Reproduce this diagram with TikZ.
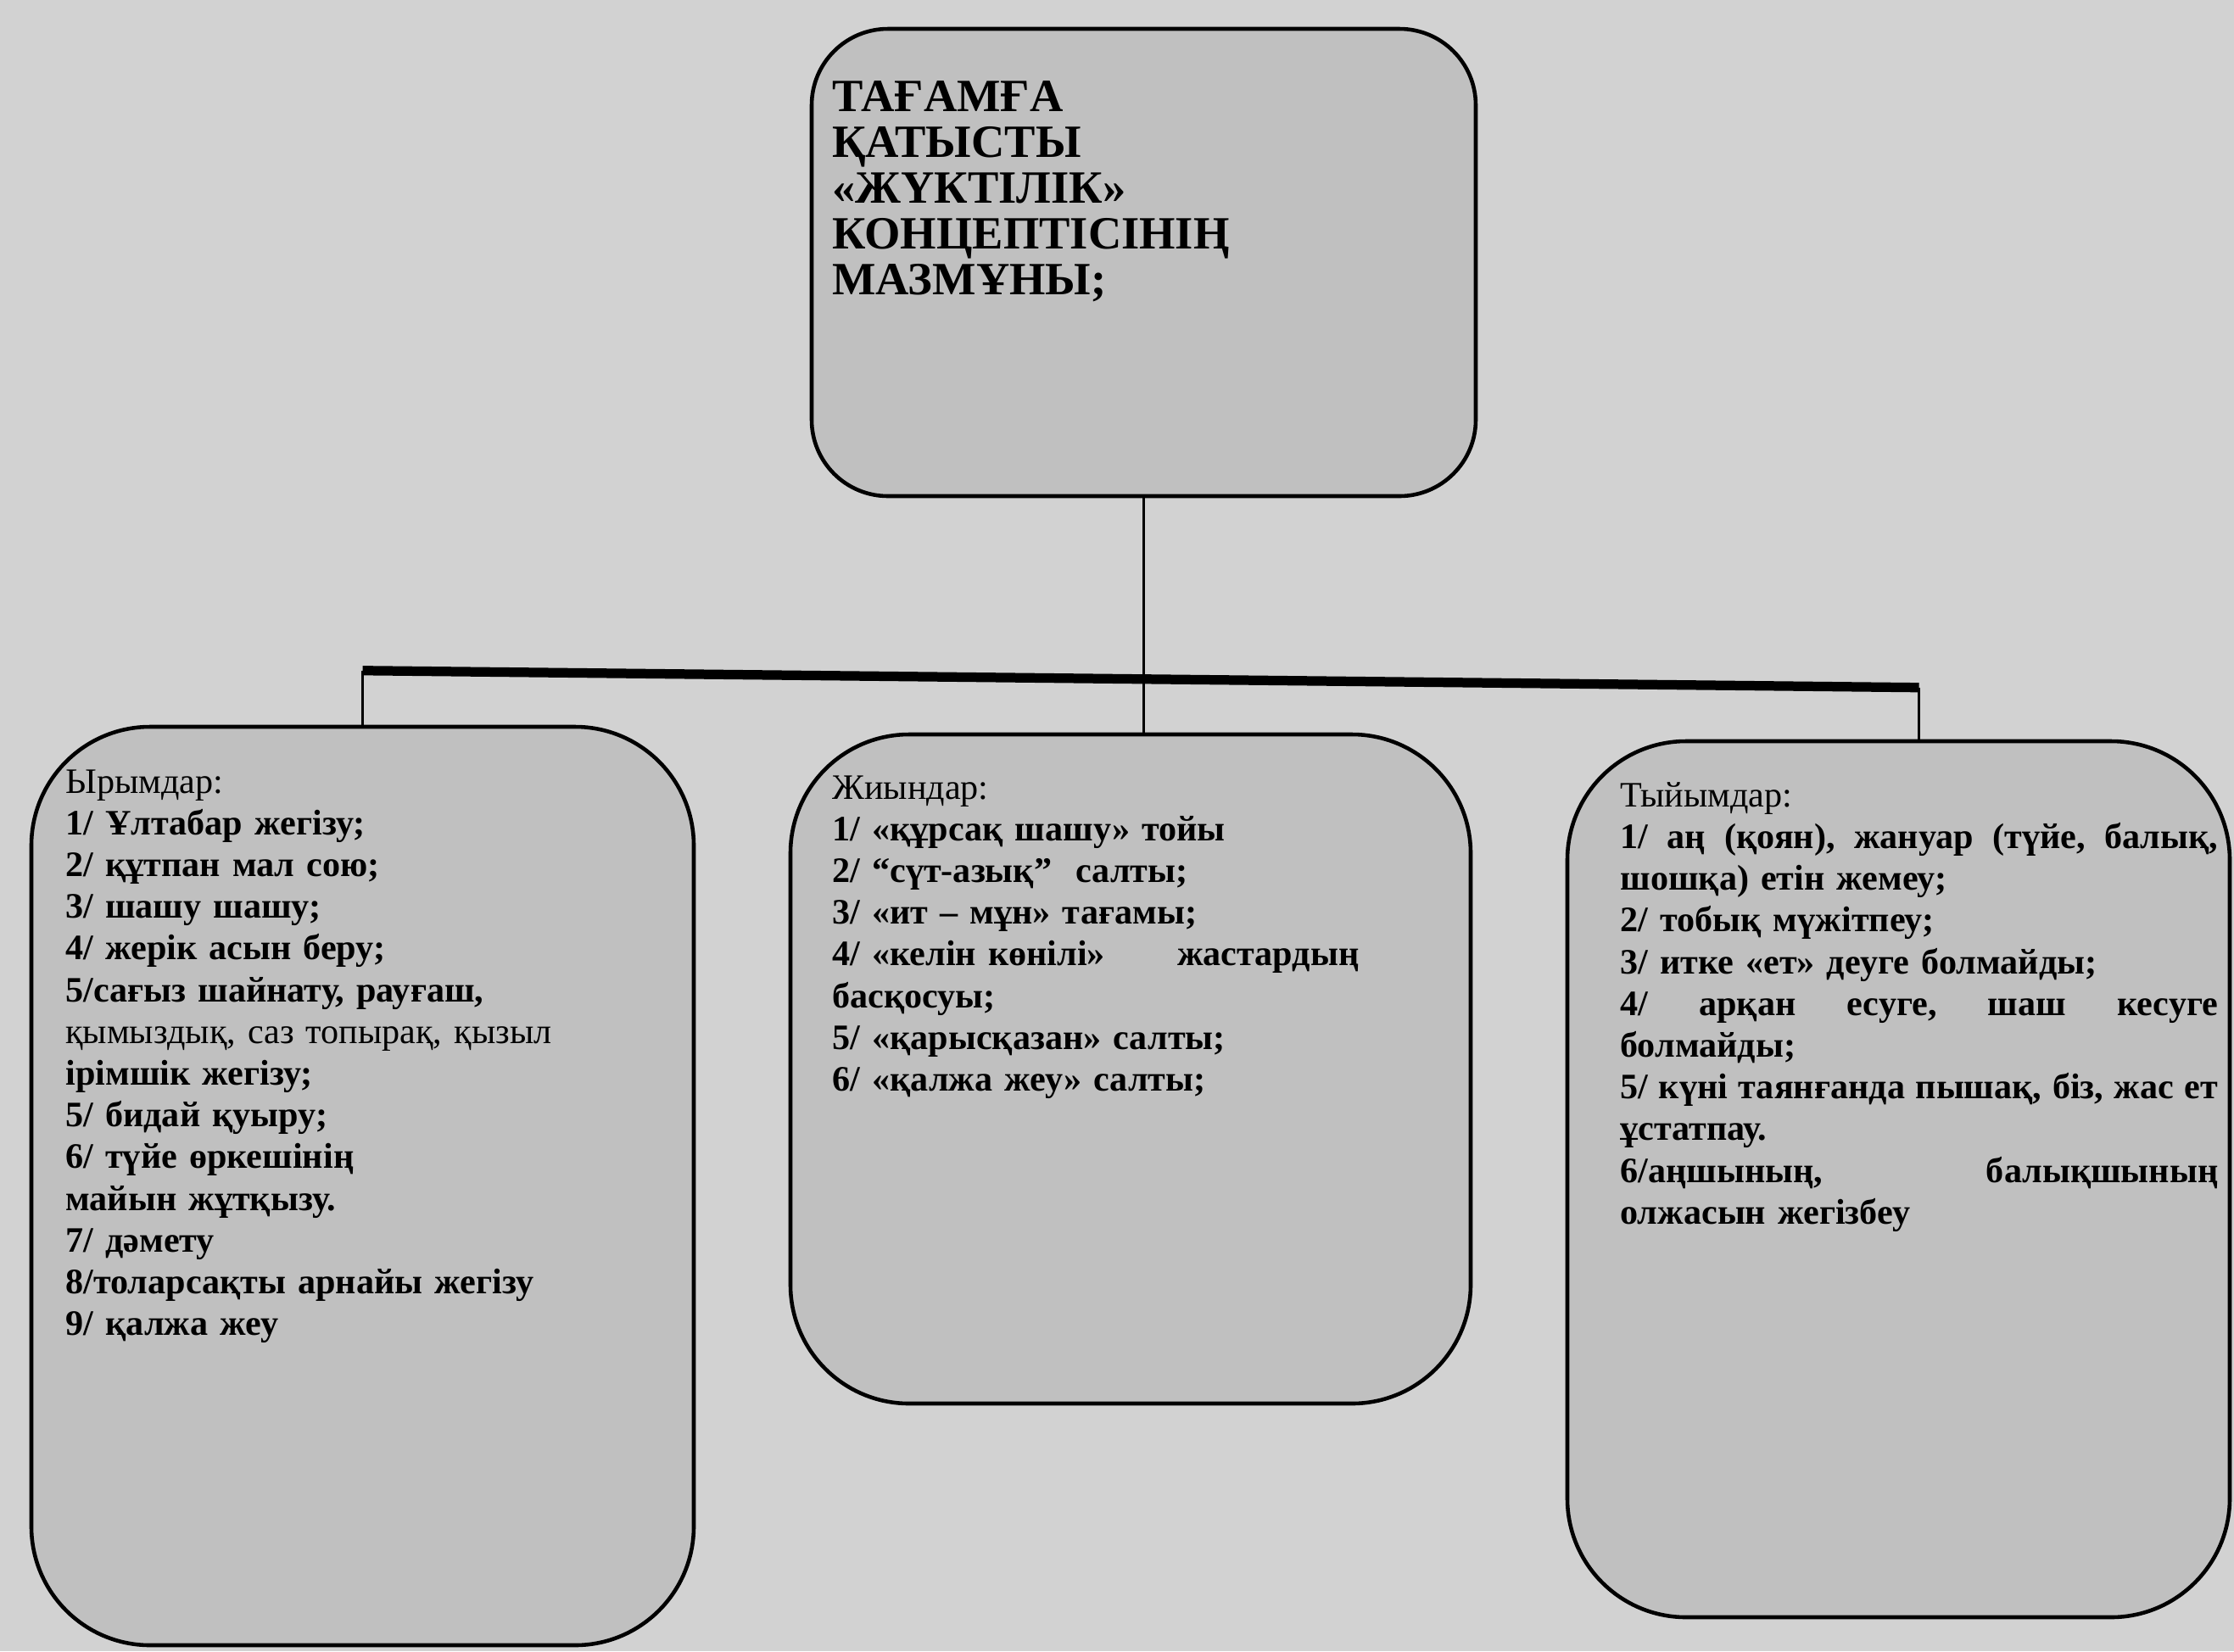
\documentclass[tikz,border=0pt]{standalone}
\usepackage{fontspec}
\setmainfont{Liberation Serif}
\usetikzlibrary{positioning}
\definecolor{paper}{HTML}{D2D2D2}
\definecolor{boxgray}{HTML}{C0C0C0}

\begin{document}
\begin{tikzpicture}[
  box/.style={draw, fill=boxgray, rounded corners=1.4cm, line width=1.3pt, inner sep=0pt},
  txt/.style={inner sep=0pt, align=left, font=\bfseries\fontsize{12}{14}\selectfont},
  link/.style={line width=1pt},
  bar/.style={line width=3.2pt}]
  \fill[paper] (0,-19.47) rectangle (26.34,0);
  \useasboundingbox (0,-19.47) rectangle (26.34,0);

  % boxes
  \node[box, rounded corners=0.9cm, minimum width=7.83cm, minimum height=5.51cm] (top) at (13.485,-3.095) {};
  \node[box, minimum width=7.81cm, minimum height=10.83cm] (lbox) at (4.275,-13.985) {};
  \node[box, minimum width=8.02cm, minimum height=7.89cm] (mbox) at (13.33,-12.605) {};
  \node[box, minimum width=7.81cm, minimum height=10.33cm] (rbox) at (22.385,-13.905) {};

  % texts
  \node[txt, font=\bfseries\fontsize{15.5}{15.4}\selectfont, text width=7cm, below right=0.63cm and 0.26cm of top.north west] (title)
    {ТАҒАМҒА\\ҚАТЫСТЫ\\«ЖҮКТІЛІК»\\КОНЦЕПТІСІНІҢ\\МАЗМҰНЫ;};
  \node[txt, text width=7cm, below right=0.52cm and 0.42cm of lbox.north west] (ltxt)
    {{\mdseries Ырымдар:}\\
     1/ Ұлтабар жегізу;\\
     2/ құтпан мал сою;\\
     3/ шашу шашу;\\
     4/ жерік асын беру;\\
     5/сағыз шайнату, рауғаш,\\
     {\mdseries қымыздық, саз топырақ, қызыл}\\
     ірімшік жегізу;\\
     5/ бидай қуыру;\\
     6/ түйе өркешінің\\
     майын жұтқызу.\\
     7/ дәмету\\
     8/толарсақты арнайы жегізу\\
     9/ қалжа жеу};
  \node[txt, text width=6.21cm, below right=0.5cm and 0.51cm of mbox.north west] (mtxt)
    {{\mdseries Жиындар:}\\
     1/ «құрсақ шашу» тойы\\
     2/ “сүт-азық”\ \ салты;\\
     3/ «ит – мұн» тағамы;\\
     4/ «келін көнілі»\hfill жастардың\\
     басқосуы;\\
     5/ «қарысқазан» салты;\\
     6/ «қалжа жеу» салты;};
  \node[txt, text width=7.05cm, below right=0.5cm and 0.64cm of rbox.north west] (rtxt)
    {{\mdseries Тыйымдар:}\\
     1/\hfill аң\hfill (қоян),\hfill жануар\hfill (түйе,\hfill балық,\\
     шошқа) етін жемеу;\\
     2/ тобық мүжітпеу;\\
     3/ итке «ет» деуге болмайды;\\
     4/\hfill арқан\hfill есуге,\hfill шаш\hfill кесуге\\
     болмайды;\\
     5/\hfill күні\hfill таянғанда\hfill пышақ,\hfill біз,\hfill жас\hfill ет\\
     ұстатпау.\\
     6/аңшының,\hfill балықшының\\
     олжасын жегізбеу};

  % connectors
  \coordinate (ldrop) at (lbox.north);
  \coordinate (rdrop) at ([xshift=0.24cm]rbox.north);
  \coordinate (barl) at ([yshift=0.64cm]ldrop);
  \coordinate (barr) at ([yshift=0.61cm]rdrop);
  \draw[link] (top.south) -- (top.south |- mbox.north);
  \draw[bar] (barl) -- (barr);
  \draw[link] (barl) -- (ldrop);
  \draw[link] (barr) -- (rdrop);
\end{tikzpicture}
\end{document}
